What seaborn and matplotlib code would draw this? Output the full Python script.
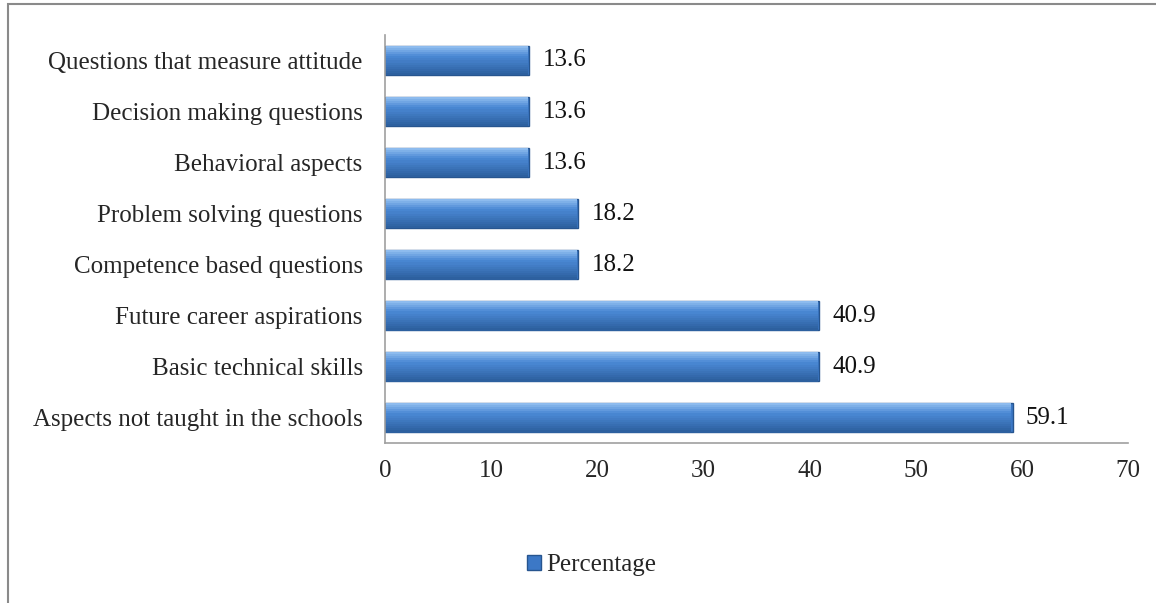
import matplotlib
matplotlib.use("Agg")
import matplotlib.pyplot as plt
import matplotlib.patches as mpatches
import matplotlib.colors as mcolors
import numpy as np
import seaborn as sns
import pandas as pd

categories = [
    "Questions that measure attitude",
    "Decision making questions",
    "Behavioral aspects",
    "Problem solving questions",
    "Competence based questions",
    "Future career aspirations",
    "Basic technical skills",
    "Aspects not taught in the schools",
]
percentages = [13.6, 13.6, 13.6, 18.2, 18.2, 40.9, 40.9, 59.1]
x_ticks = [0, 10, 20, 30, 40, 50, 60, 70]
series_name = "Percentage"

df = pd.DataFrame({"category": categories, "value": percentages})

sns.set_style("white")
plt.rcParams["font.family"] = ["Liberation Serif", "DejaVu Serif"]

fig = plt.figure(figsize=(11.56, 6.03), dpi=100)
ax = fig.add_axes([0.333, 0.265, 0.643, 0.677])

bar_color = "#3C78C6"
edge_color = "#27558F"
sns.barplot(data=df, x="value", y="category", orient="h", color=bar_color,
            width=0.58, edgecolor=edge_color, linewidth=1.0, saturation=1, ax=ax)

# vertical shading inside each bar: light at the top, darker at the bottom
top_c = np.array(mcolors.to_rgb("#8DBBEE"))
mid_c = np.array(mcolors.to_rgb("#4A88D4"))
bot_c = np.array(mcolors.to_rgb("#2D609F"))
n_strips = 14
for patch in list(ax.patches):
    x0, y0 = patch.get_x(), patch.get_y()
    w, h = patch.get_width(), patch.get_height()
    for k in range(n_strips):
        t = k / (n_strips - 1)
        if t < 0.35:
            c = top_c + (mid_c - top_c) * (t / 0.35)
        else:
            c = mid_c + (bot_c - mid_c) * ((t - 0.35) / 0.65)
        ax.add_patch(mpatches.Rectangle((x0 + 0.12, y0 + h * k / n_strips),
                                        w - 0.24, h / n_strips * 1.05,
                                        color=c, lw=0, zorder=patch.get_zorder() + 0.1))

for i, v in enumerate(percentages):
    ax.text(v + 1.25, i, f"{v}", va="center", ha="left", fontsize=18, color="#111111")

ax.set_xlim(0, 70)
ax.set_xticks(x_ticks)
ax.set_xticklabels([str(t) for t in x_ticks], fontsize=18)
ax.tick_params(axis="x", length=0, pad=12)
ax.tick_params(axis="y", length=0, pad=16, labelsize=18)
ax.set_xlabel("")
ax.set_ylabel("")
for s in ["top", "right"]:
    ax.spines[s].set_visible(False)
ax.spines["left"].set_color("#A0A0A0")
ax.spines["bottom"].set_color("#A0A0A0")
ax.spines["left"].set_linewidth(1.2)
ax.spines["bottom"].set_linewidth(1.2)

handle = mpatches.Patch(facecolor=bar_color, edgecolor=edge_color, label=series_name)
fig.legend(handles=[handle], loc="center", bbox_to_anchor=(0.512, 0.063),
           frameon=False, fontsize=18, handlelength=0.55, handleheight=0.55,
           handletextpad=0.2)

# outer chart border
fig.add_artist(mpatches.Rectangle((8 / 1156, -0.05), 1.1, 1 - 4 / 603 + 0.05,
                                  transform=fig.transFigure, fill=False,
                                  edgecolor="#8A8A8A", linewidth=1.5))

fig.savefig("out.png", dpi=100)
